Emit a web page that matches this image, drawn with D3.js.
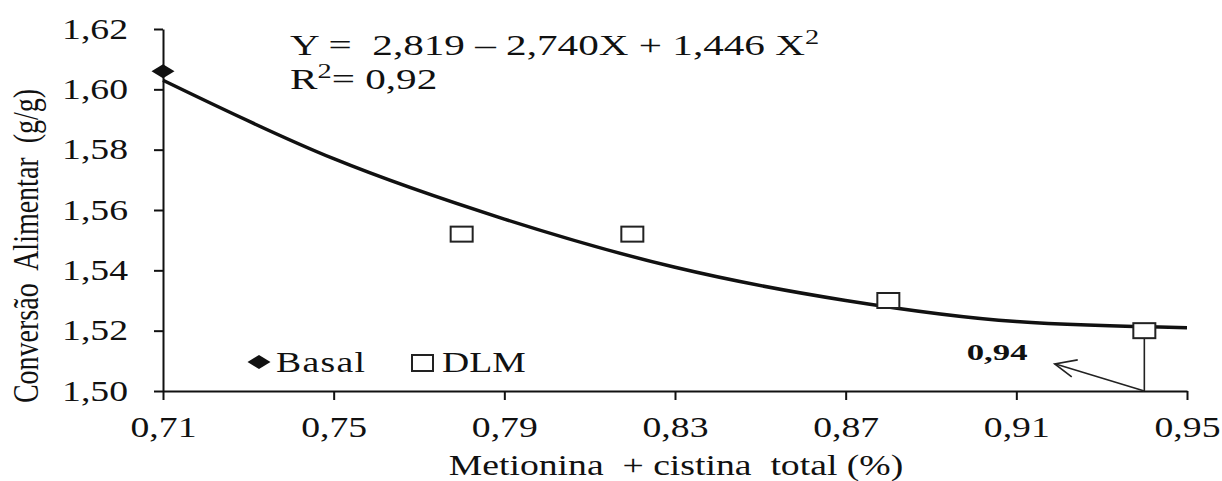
<!DOCTYPE html>
<html>
<head>
<meta charset="utf-8">
<script src="https://cdn.jsdelivr.net/npm/d3@7"></script>
<style>
  body { margin: 0; background: #fff; }
  svg text { font-family: "Liberation Serif", "Times New Roman", serif; fill: #111; white-space: pre; }
</style>
</head>
<body>
<div id="chart"></div>
<script>
// Data
var basalX = [0.71];
var basalY = [1.606];
var dlmX = [0.78, 0.82, 0.88, 0.94];
var dlmY = [1.552, 1.552, 1.530, 1.520];
// fitted curve, read at each x tick
var curveX = [0.71, 0.75, 0.79, 0.83, 0.87, 0.91, 0.95];
var curveY = [1.603, 1.577, 1.557, 1.541, 1.530, 1.523, 1.521];
var xTicks = [0.71, 0.75, 0.79, 0.83, 0.87, 0.91, 0.95];
var yTicks = [1.50, 1.52, 1.54, 1.56, 1.58, 1.60, 1.62];

var width = 1222;
var height = 481;
var margins = { top: 29, right: 35, bottom: 90, left: 163 };
var SX = 1.3; // the picture is stretched sideways

var fmt = function (d) { return d3.format(".2f")(d).replace(".", ","); };

var svg = d3.select("#chart").append("svg")
  .attr("width", width)
  .attr("height", height)
  .attr("viewBox", "0 0 " + width + " " + height);

var scaleX = d3.scaleLinear()
  .domain([0.71, 0.95])
  .range([margins.left, width - margins.right]);

var scaleY = d3.scaleLinear()
  .domain([1.50, 1.62])
  .range([height - margins.bottom, margins.top]);

function stretch(sel, x, y, k) {
  sel.attr("transform", "translate(" + x + "," + y + ") scale(" + (k || SX) + ",1)");
}

// Axes
var xAxis = svg.append("g")
  .attr("class", "x-axis")
  .attr("transform", "translate(0," + scaleY(1.50) + ")")
  .call(d3.axisBottom(scaleX).tickValues(xTicks).tickFormat(fmt).tickSize(9).tickSizeOuter(0));

var yAxis = svg.append("g")
  .attr("class", "y-axis")
  .attr("transform", "translate(" + scaleX(0.71) + ",0)")
  .call(d3.axisLeft(scaleY).tickValues(yTicks).tickFormat(fmt).tickSize(9).tickSizeOuter(0));

svg.selectAll(".x-axis, .y-axis")
  .attr("font-family", "Liberation Serif, serif");

svg.selectAll(".domain, .tick line")
  .attr("stroke", "#111")
  .attr("stroke-width", 2);

xAxis.selectAll(".tick text")
  .attr("font-size", 29)
  .attr("y", null).attr("dy", null)
  .attr("text-anchor", "middle")
  .each(function () { stretch(d3.select(this), 0, 46); });

yAxis.selectAll(".tick text")
  .attr("font-size", 29)
  .attr("x", null).attr("dy", null)
  .attr("text-anchor", "end")
  .each(function () { stretch(d3.select(this), -35, 9); });

// Fitted curve
var line = d3.line()
  .x(function (d) { return scaleX(d[0]); })
  .y(function (d) { return scaleY(d[1]); })
  .curve(d3.curveMonotoneX);

svg.append("path")
  .datum(d3.zip(curveX, curveY))
  .attr("d", line)
  .attr("fill", "none")
  .attr("stroke", "#111")
  .attr("stroke-width", 3.5);

// Annotation for 0,94
var a = svg.append("g").attr("class", "annot")
  .attr("stroke", "#222").attr("stroke-width", 1.6).attr("fill", "none");
a.append("line")
  .attr("x1", scaleX(0.94)).attr("x2", scaleX(0.94))
  .attr("y1", scaleY(1.5195)).attr("y2", scaleY(1.50));
a.append("line")
  .attr("x1", scaleX(0.94)).attr("y1", scaleY(1.50))
  .attr("x2", scaleX(0.919)).attr("y2", scaleY(1.509));
a.append("path")
  .attr("d", "M" + (scaleX(0.919) + 23) + "," + (scaleY(1.509) - 4) +
    " L" + scaleX(0.919) + "," + scaleY(1.509) +
    " L" + (scaleX(0.919) + 17) + "," + (scaleY(1.509) + 13));

svg.append("text")
  .attr("font-size", 24)
  .attr("font-weight", "bold")
  .attr("text-anchor", "middle")
  .text(fmt(0.94))
  .call(stretch, scaleX(0.9055), 360, 1.45);

// Points
svg.selectAll(".dlm")
  .data(d3.zip(dlmX, dlmY))
  .enter().append("rect")
  .attr("class", "dlm")
  .attr("x", function (d) { return scaleX(d[0]) - 11; })
  .attr("y", function (d) { return scaleY(d[1]) - 7.5; })
  .attr("width", 22)
  .attr("height", 15)
  .attr("fill", "#fff")
  .attr("stroke", "#222")
  .attr("stroke-width", 2);

var diamond = function (cx, cy) {
  return "M" + (cx - 11.5) + "," + cy + " L" + cx + "," + (cy - 7) +
    " L" + (cx + 11.5) + "," + cy + " L" + cx + "," + (cy + 7) + "Z";
};

svg.selectAll(".basal")
  .data(d3.zip(basalX, basalY))
  .enter().append("path")
  .attr("class", "basal")
  .attr("d", function (d) { return diamond(scaleX(d[0]), scaleY(d[1])); })
  .attr("fill", "#111");

// Legend
svg.append("path").attr("d", diamond(259, 362)).attr("fill", "#111");
svg.append("text").attr("font-size", 29).attr("letter-spacing", 1)
  .text("Basal").call(stretch, 276, 372);
svg.append("rect")
  .attr("x", 412).attr("y", 355).attr("width", 21).attr("height", 16)
  .attr("fill", "#fff").attr("stroke", "#222").attr("stroke-width", 2);
svg.append("text").attr("font-size", 29)
  .text("DLM").call(stretch, 442, 372);

// Equation
var eq = svg.append("text").attr("font-size", 29);
eq.append("tspan").text("Y =  2,819 \u2013 2,740X + 1,446 X");
eq.append("tspan").attr("font-size", 20).attr("dy", -11).text("2");
eq.call(stretch, 290, 55, 1.42);

var r2 = svg.append("text").attr("font-size", 29);
r2.append("tspan").text("R");
r2.append("tspan").attr("font-size", 20).attr("dy", -11).text("2");
r2.append("tspan").attr("dy", 11).text("= 0,92");
r2.call(stretch, 290, 89, 1.42);

// Axis labels
svg.append("text")
  .attr("font-size", 29)
  .attr("text-anchor", "middle")
  .text("Metionina  + cistina  total (%)")
  .call(stretch, 676, 475);

svg.append("text")
  .attr("font-size", 28)
  .attr("text-anchor", "middle")
  .text("Conversão  Alimentar  (g/g)")
  .attr("transform", "translate(38,246) scale(" + SX + ",1) rotate(-90)");
</script>
</body>
</html>
